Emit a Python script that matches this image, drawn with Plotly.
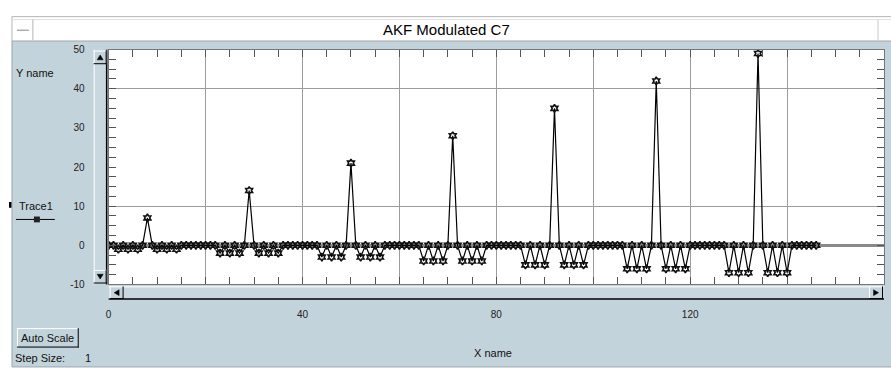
import plotly.graph_objects as go

W, H = 891, 371

# ---- data ----
akf = [
    0, 0, -1, 0, -1, 0, -1, 0, 7, 0, -1, 0, -1, 0, -1, 0, 0, 0, 0, 0, 0,
    0, 0, -2, 0, -2, 0, -2, 0, 14, 0, -2, 0, -2, 0, -2, 0, 0, 0, 0, 0, 0,
    0, 0, -3, 0, -3, 0, -3, 0, 21, 0, -3, 0, -3, 0, -3, 0, 0, 0, 0, 0, 0,
    0, 0, -4, 0, -4, 0, -4, 0, 28, 0, -4, 0, -4, 0, -4, 0, 0, 0, 0, 0, 0,
    0, 0, -5, 0, -5, 0, -5, 0, 35, 0, -5, 0, -5, 0, -5, 0, 0, 0, 0, 0, 0,
    0, 0, -6, 0, -6, 0, -6, 0, 42, 0, -6, 0, -6, 0, -6, 0, 0, 0, 0, 0, 0,
    0, 0, -7, 0, -7, 0, -7, 0, 49, 0, -7, 0, -7, 0, -7, 0, 0, 0, 0, 0, 0,
]
lags = list(range(len(akf)))

x_tick_vals = [0, 20, 40, 60, 80, 100, 120, 140, 160]
x_tick_text = ["0", "", "40", "", "80", "", "120", "", "160"]
y_tick_vals = [-10, 0, 10, 20, 30, 40, 50]
y_tick_text = ["-10", "0", "10", "20", "30", "40", "50"]
y_grid_vals = [10, 40]
x_range = [0, 160]
y_range = [-10, 50]

# ---- styles ----
PANEL = "#c3d3db"
FONT = "Liberation Sans, Arial, sans-serif"
TICKC = "#555555"
GRIDC = "#9c9c9c"

# plot area in pixels
L, R, T, B = 106, 884, 46, 288


def px(x):
    return x / W


def py(y):
    return 1 - y / H


fig = go.Figure()

fig.add_trace(go.Scatter(
    x=lags, y=akf, xaxis="x", yaxis="y2", mode="lines+markers",
    line=dict(color="black", width=1.2),
    marker=dict(symbol="hexagram-open", size=6, color="#111111",
                line=dict(color="#111111", width=1.6)),
    showlegend=False, hoverinfo="x+y",
))
# anchor trace for the label axis
fig.add_trace(go.Scatter(x=[None], y=[None], xaxis="x", yaxis="y",
                         showlegend=False, hoverinfo="skip"))

tickfont = dict(family=FONT, size=10, color="#222222")

fig.update_layout(
    width=W, height=H,
    margin=dict(l=0, r=0, t=0, b=0),
    paper_bgcolor="white",
    plot_bgcolor="white",
    showlegend=False,
    xaxis=dict(
        domain=[px(L), px(R)], range=x_range, anchor="y",
        tickmode="array", tickvals=x_tick_vals, ticktext=x_tick_text,
        ticks="inside", ticklen=7, tickcolor=TICKC, tickwidth=1,
        minor=dict(dtick=5, tick0=0, ticks="inside", ticklen=7,
                   tickcolor=TICKC, showgrid=False),
        showgrid=True, gridcolor=GRIDC, gridwidth=1.2,
        zeroline=False, showline=True, linecolor="#777777", linewidth=1,
        mirror="ticks", tickfont=tickfont, ticklabelstandoff=21,
    ),
    yaxis=dict(
        domain=[py(B), py(T)], range=y_range, anchor="x",
        tickmode="array", tickvals=y_tick_vals, ticktext=y_tick_text,
        ticks="inside", ticklen=7, tickcolor=TICKC, tickwidth=1,
        minor=dict(dtick=2.5, tick0=0, ticks="inside", ticklen=7,
                   tickcolor=TICKC, showgrid=False),
        showgrid=False,
        zeroline=True, zerolinecolor="#8a8a8a", zerolinewidth=3,
        showline=True, linecolor="#777777", linewidth=1,
        mirror="ticks", tickfont=tickfont, ticklabelstandoff=21,
    ),
    yaxis2=dict(
        domain=[py(B), py(T)], range=y_range, overlaying="y", anchor="x",
        tickmode="array", tickvals=y_grid_vals, showticklabels=False,
        ticks="", showgrid=True, gridcolor=GRIDC, gridwidth=1.2,
        zeroline=False, showline=False,
    ),
)

shapes = []


def rect(x0, y0, x1, y1, fill=None, line=None, lw=1, layer="below"):
    shapes.append(dict(type="rect", xref="paper", yref="paper",
                       x0=px(x0), x1=px(x1), y0=py(y1), y1=py(y0),
                       fillcolor=fill if fill else "rgba(0,0,0,0)",
                       line=dict(color=line if line else "rgba(0,0,0,0)", width=lw if line else 0),
                       layer=layer))


def hline(x0, x1, y, color, lw=1, layer="above"):
    shapes.append(dict(type="line", xref="paper", yref="paper",
                       x0=px(x0), x1=px(x1), y0=py(y), y1=py(y),
                       line=dict(color=color, width=lw), layer=layer))


def vline(x, y0, y1, color, lw=1, layer="above"):
    shapes.append(dict(type="line", xref="paper", yref="paper",
                       x0=px(x), x1=px(x), y0=py(y0), y1=py(y1),
                       line=dict(color=color, width=lw), layer=layer))


def tri(points, color="black"):
    path = "M " + " L ".join(f"{px(a)},{py(b)}" for a, b in points) + " Z"
    shapes.append(dict(type="path", xref="paper", yref="paper", path=path,
                       fillcolor=color, line=dict(color=color, width=0.5),
                       layer="above"))


def button(x0, y0, x1, y1):
    rect(x0, y0, x1, y1, fill=PANEL, layer="above")
    hline(x0, x1, y0 + 0.5, "white")
    vline(x0 + 0.5, y0, y1, "white")
    hline(x0, x1, y1 - 0.5, "black")
    vline(x1 - 0.5, y0, y1, "black")


# panel background
rect(9, 37, W + 2, H + 2, fill=PANEL, line="#9aa6ad")
# title bar
rect(9, 12, W + 2, 37, fill="white", line="#b4b4b4")
hline(9, W, 15, "#e0e0e0")
vline(30, 15, 36, "#b4b4b4")
hline(14, 26, 26, "#9a9a9a", lw=1.2)
vline(878, 15, 36, "#c8c8c8")
# white plot area behind grid (below layer)
rect(L, T, R, B, fill="white", layer="below")

# left (vertical) scrollbar
rect(91, T, 104, B, fill="#c9d7de", layer="above")
vline(91.5, T, B, "white")
vline(104, T, B, "black", lw=1.5)
button(91, T + 1, 104, T + 15)
tri([(94.5, T + 10.5), (100.5, T + 10.5), (97.5, T + 5.5)])
button(91, B - 15, 104, B - 1)
tri([(94.5, B - 10.5), (100.5, B - 10.5), (97.5, B - 5.5)])

# bottom (horizontal) scrollbar
rect(L, 289, R, 303, fill="#c9d7de", layer="above")
hline(L, R, 290.5, "white")
hline(L, R, 303, "black", lw=1.5)
button(L + 1, 290, L + 15, 303)
tri([(L + 10.5, 293.5), (L + 10.5, 299.5), (L + 5.5, 296.5)])
button(R - 15, 290, R - 1, 303)
tri([(R - 10.5, 293.5), (R - 10.5, 299.5), (R - 5.5, 296.5)])

# Auto Scale button
button(14, 333, 76, 353)

# legend symbol
hline(13, 52, 221, "black", lw=1)
rect(31, 218, 37, 224, fill="#222222", layer="above")

# small marks
rect(6, 203, 8.5, 209, fill="black", layer="above")

fig.update_layout(shapes=shapes)

ann = []


def text(x, y, s, size=11, xanchor="center", color="#111111"):
    ann.append(dict(x=px(x), y=py(y), xref="paper", yref="paper", text=s,
                    showarrow=False, xanchor=xanchor, yanchor="middle",
                    font=dict(family=FONT, size=size, color=color)))


text(445, 25, "AKF Modulated C7", size=15, color="black")
text(11, 70, "Y name", size=11, xanchor="left")
text(14, 207, "Trace1", size=11, xanchor="left")
text(492, 359, "X name", size=11)
text(45, 343, "Auto Scale", size=11)
text(10, 364, "Step Size:", size=11, xanchor="left")
text(85, 364, "1", size=11)

fig.update_layout(annotations=ann)

fig.write_html("out.html")
